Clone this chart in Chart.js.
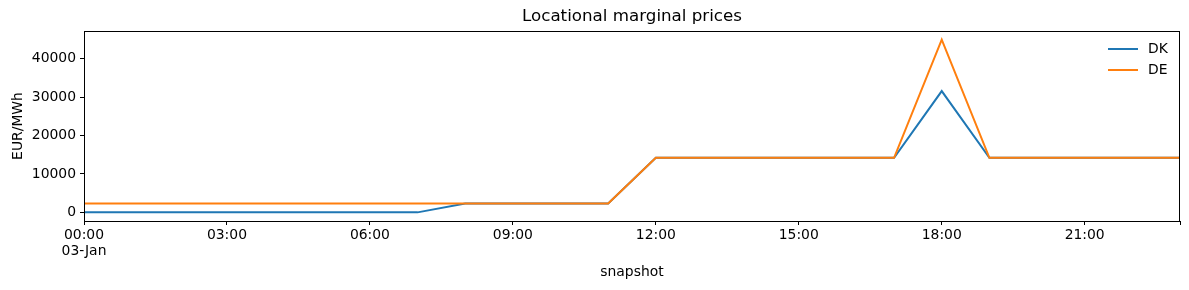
<!DOCTYPE html>
<html>
<head>
<meta charset="utf-8">
<script src="https://cdn.jsdelivr.net/npm/chart.js@4/dist/chart.umd.min.js"></script>
<style>
html,body{margin:0;padding:0;background:#fff;}
#wrap{width:1189px;height:290px;position:relative;}
</style>
</head>
<body>
<div id="wrap"><canvas id="c" width="1189" height="290"></canvas></div>
<script>
const hours = [0,1,2,3,4,5,6,7,8,9,10,11,12,13,14,15,16,17,18,19,20,21,22,23];
const dk = [0,0,0,0,0,0,0,0,2300,2300,2300,2300,14200,14200,14200,14200,14200,14200,31600,14200,14200,14200,14200,14200];
const de = [2300,2300,2300,2300,2300,2300,2300,2300,2300,2300,2300,2300,14200,14200,14200,14200,14200,14200,45000,14200,14200,14200,14200,14200];
const xTickValues = [0,3,6,9,12,15,18,21,23];
const xTickLabels = [["00:00","03-Jan"],"03:00","06:00","09:00","12:00","15:00","18:00","21:00",""];
const yTickValues = [0,10000,20000,30000,40000];
const seriesNames = ["DK","DE"];
const colors = ["#1f77b4","#ff7f0e"];

const FONT = "'DejaVu Sans', sans-serif";

const decor = {
  id: 'decor',
  afterDraw(chart) {
    const ctx = chart.ctx, a = chart.chartArea;
    ctx.save();
    ctx.strokeStyle = '#000';
    ctx.lineWidth = 1;
    ctx.strokeRect(Math.round(a.left)+0.5, Math.round(a.top)+0.5, Math.round(a.right-a.left)-1, Math.round(a.bottom-a.top));
    ctx.fillStyle = '#000';
    ctx.textAlign = 'center';
    ctx.textBaseline = 'middle';
    ctx.font = '16.7px ' + FONT;
    ctx.fillText('Locational marginal prices', (a.left+a.right)/2, 17);
    ctx.font = '13.9px ' + FONT;
    ctx.fillText('snapshot', (a.left+a.right)/2, 272);
    ctx.save();
    ctx.translate(18, (a.top+a.bottom)/2);
    ctx.rotate(-Math.PI/2);
    ctx.fillText('EUR/MWh', 0, 0);
    ctx.restore();
    // legend
    ctx.textAlign = 'left';
    ctx.lineWidth = 2;
    seriesNames.forEach((n,i)=>{
      const y = 49 + i*21;
      ctx.strokeStyle = colors[i];
      ctx.beginPath(); ctx.moveTo(1108,y); ctx.lineTo(1138,y); ctx.stroke();
      ctx.fillText(n, 1148, y);
    });
    ctx.restore();
  }
};

new Chart(document.getElementById('c'), {
  type: 'line',
  data: {
    datasets: seriesNames.map((n,i)=>({
      label: n,
      data: hours.map((h,j)=>({x:h, y:(i===0?dk:de)[j]})),
      borderColor: colors[i],
      backgroundColor: colors[i],
      borderWidth: 2,
      pointRadius: 0,
      tension: 0,
      fill: false,
      order: 1 - i
    }))
  },
  options: {
    responsive: false,
    animation: false,
    layout: { padding: { top: 31, right: 9, left: 0, bottom: 0 } },
    plugins: { legend: { display: false }, title: { display: false }, tooltip: { enabled: false } },
    scales: {
      x: {
        type: 'linear', min: 0, max: 23,
        afterBuildTicks: s => { s.ticks = xTickValues.map(v=>({value:v})); },
        afterFit: s => { s.height = 69; },
        grid: { display: true, drawOnChartArea: false, tickLength: 4, color: '#000', tickColor: '#000' },
        border: { display: true, color: '#000' },
        ticks: { color: '#000', font: { family: FONT, size: 13.9, lineHeight: 1.15 }, padding: 2, maxRotation: 0, autoSkip: false,
          callback: (v) => xTickLabels[xTickValues.indexOf(v)] }
      },
      y: {
        min: -2250, max: 47250,
        afterBuildTicks: s => { s.ticks = yTickValues.map(v=>({value:v})); },
        afterFit: s => { s.width = 84; },
        grid: { display: true, drawOnChartArea: false, tickLength: 4, color: '#000', tickColor: '#000' },
        border: { display: true, color: '#000' },
        ticks: { color: '#000', font: { family: FONT, size: 13.9 }, padding: 4,
          callback: (v) => String(v) }
      }
    }
  },
  plugins: [decor]
});
</script>
</body>
</html>
